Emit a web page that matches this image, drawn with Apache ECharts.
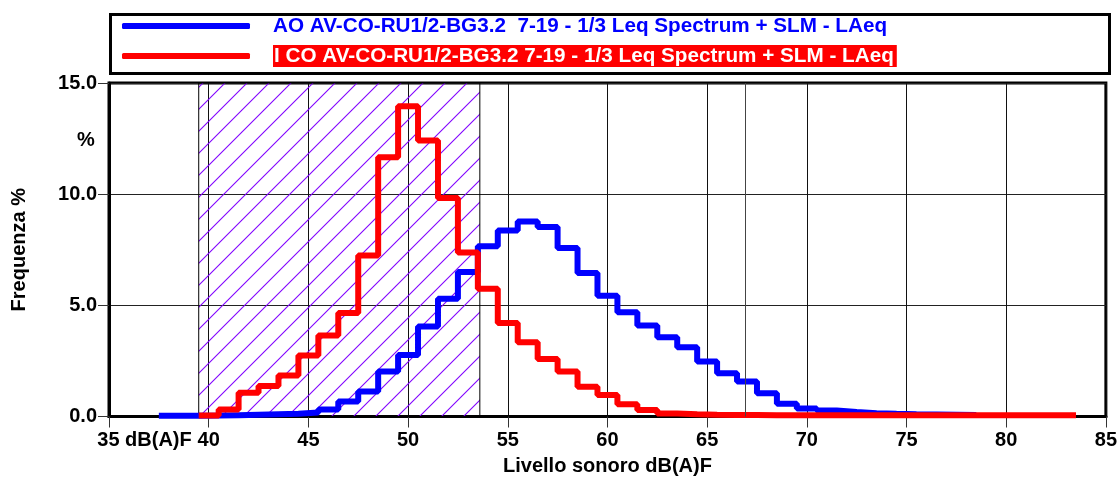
<!DOCTYPE html>
<html>
<head>
<meta charset="utf-8">
<script src="https://cdn.jsdelivr.net/npm/echarts@6/dist/echarts.min.js"></script>
<style>
html,body{margin:0;padding:0;background:#fff;}
#chart{width:1120px;height:482px;}
</style>
</head>
<body>
<div id="chart"></div>
<script>
// ---- data ----
const blueName = 'AO AV-CO-RU1/2-BG3.2  7-19 - 1/3 Leq Spectrum + SLM - LAeq';
const redName = 'I CO AV-CO-RU1/2-BG3.2 7-19 - 1/3 Leq Spectrum + SLM - LAeq';
const blueLevels = [38,39,40,41,42,43,44,45,46,47,48,49,50,51,52,53,54,55,56,57,58,59,60,61,62,63,64,65,66,67,68,69,70,71,72,73,74,75,76,77,78];
const blueValues = [0.03,0.03,0.04,0.06,0.08,0.10,0.12,0.18,0.32,0.67,1.12,2.02,2.77,4.05,5.30,6.50,7.66,8.37,8.77,8.52,7.58,6.45,5.43,4.69,4.09,3.57,3.12,2.47,1.95,1.57,1.05,0.57,0.36,0.27,0.20,0.15,0.12,0.10,0.09,0.08,0.07];
const redLevels = [40,41,42,43,44,45,46,47,48,49,50,51,52,53,54,55,56,57,58,59,60,61,62,63,64,65,66,67,68,69,70,71,72,73,74,75,76,77,78,79,80,81,82,83];
const redValues = [0.05,0.32,1.07,1.37,1.84,2.74,3.64,4.65,7.24,11.66,13.95,12.41,9.83,7.38,5.75,4.20,3.34,2.59,2.02,1.34,0.97,0.55,0.29,0.14,0.10,0.08,0.07,0.07,0.06,0.06,0.06,0.06,0.06,0.06,0.06,0.06,0.06,0.06,0.06,0.06,0.06,0.06,0.06,0.06];
const hatchRange = [39.5, 53.6];
const markerLevel = [66.9];
const xTicks = [35, 85, 5];
const yTicks = [0, 15, 5];

// step histogram points built from bin centres (bin width 1 dB)
function steps(levels, values) {
  const pts = levels.map((l, i) => [l - 0.5, values[i]]);
  pts.push([levels[levels.length - 1] + 0.5, values[values.length - 1]]);
  return pts;
}

function hatchPattern() {
  const s = 22;
  const c = document.createElement('canvas');
  c.width = s; c.height = s;
  const g = c.getContext('2d');
  g.strokeStyle = '#8000ff';
  g.lineWidth = 1.1;
  g.beginPath(); g.moveTo(-2, s + 2); g.lineTo(s + 2, -2); g.stroke();
  g.beginPath(); g.moveTo(-2, 2); g.lineTo(2, -2); g.stroke();
  g.beginPath(); g.moveTo(s - 2, s + 2); g.lineTo(s + 2, s - 2); g.stroke();
  return c;
}

const FONT = 'Liberation Sans, Arial, sans-serif';
const LFS = 20.7;
const chart = echarts.init(document.getElementById('chart'), null, {renderer: 'canvas'});
chart.setOption({
  animation: false,
  backgroundColor: '#fff',
  grid: {left: 109, right: 13, top: 83, bottom: 65.5, show: true, borderColor: '#000', borderWidth: 3, backgroundColor: 'transparent'},
  legend: {
    left: 122, top: 15, orient: 'vertical', padding: 0,
    itemWidth: 128, itemHeight: 6, itemGap: 8,
    icon: 'roundRect',
    data: [blueName, redName],
    formatter: function (n) {
      return n === redName ? '{s|}{r|' + n + '}' : '{s|}{b|' + n + '}';
    },
    textStyle: {
      fontFamily: FONT, fontSize: LFS, fontWeight: 'bold',
      rich: {
        s: {width: 18, height: 22},
        b: {color: '#0000ff', fontFamily: FONT, fontSize: LFS, fontWeight: 'bold', lineHeight: 22, height: 22},
        r: {color: '#ffffff', backgroundColor: '#ff0000', fontFamily: FONT, fontSize: LFS, fontWeight: 'bold', lineHeight: 22, height: 22, padding: [0, 3, 0, 1]}
      }
    }
  },
  graphic: [
    {type: 'rect', left: 108, top: 12, shape: {width: 999, height: 59}, style: {fill: 'none', stroke: '#000', lineWidth: 3}, z: 10},
    {type: 'text', left: 77, top: 130, style: {text: '%', fontFamily: FONT, fontSize: 20, fontWeight: 'bold', fill: '#000'}}
  ],
  xAxis: {
    type: 'value', min: xTicks[0], max: xTicks[1], interval: xTicks[2],
    name: 'Livello sonoro dB(A)F', nameLocation: 'middle', nameGap: 40,
    nameTextStyle: {fontFamily: FONT, fontSize: 20, fontWeight: 'bold', color: '#000'},
    axisLine: {show: true, onZero: false, lineStyle: {color: '#000', width: 3}},
    axisTick: {show: true, inside: false, length: 11, lineStyle: {color: '#333', width: 1}},
    splitLine: {show: true, lineStyle: {color: '#111', width: 1}},
    axisLabel: {
      margin: 14, color: '#000', fontFamily: FONT, fontSize: 20, fontWeight: 'bold',
      formatter: function (v) {
        return v === xTicks[0] ? '{s|}{n|' + v + ' dB(A)F}' : '{n|' + v + '}';
      },
      rich: {
        s: {width: 71},
        n: {fontFamily: FONT, fontSize: 20, fontWeight: 'bold', color: '#000'}
      }
    }
  },
  yAxis: {
    type: 'value', min: yTicks[0], max: yTicks[1], interval: yTicks[2],
    name: 'Frequenza %', nameLocation: 'middle', nameGap: 80,
    nameTextStyle: {fontFamily: FONT, fontSize: 20, fontWeight: 'bold', color: '#000'},
    axisLine: {show: true, lineStyle: {color: '#000', width: 3}},
    axisTick: {show: true, inside: false, length: 11, lineStyle: {color: '#333', width: 1}},
    splitLine: {show: true, lineStyle: {color: '#222', width: 1}},
    axisLabel: {
      margin: 12, color: '#000', fontFamily: FONT, fontSize: 20, fontWeight: 'bold',
      formatter: function (v) { return v.toFixed(1); }
    }
  },
  series: [
    {
      name: blueName, type: 'line', step: 'end', showSymbol: false, symbol: 'none',
      data: steps(blueLevels, blueValues),
      lineStyle: {color: '#0000ff', width: 6},
      itemStyle: {color: '#0000ff'},
      z: 3,
      markArea: {
        silent: true,
        itemStyle: {color: {image: hatchPattern(), repeat: 'repeat'}, borderColor: '#000', borderWidth: 1},
        data: [[{xAxis: hatchRange[0]}, {xAxis: hatchRange[1]}]]
      },
      markLine: {
        silent: true, symbol: 'none', label: {show: false},
        lineStyle: {color: '#444', width: 1, type: 'solid'},
        data: markerLevel.map(v => ({xAxis: v}))
      }
    },
    {
      name: redName, type: 'line', step: 'end', showSymbol: false, symbol: 'none',
      data: steps(redLevels, redValues),
      lineStyle: {color: '#ff0000', width: 6},
      itemStyle: {color: '#ff0000'},
      z: 4
    }
  ]
});
</script>
</body>
</html>
